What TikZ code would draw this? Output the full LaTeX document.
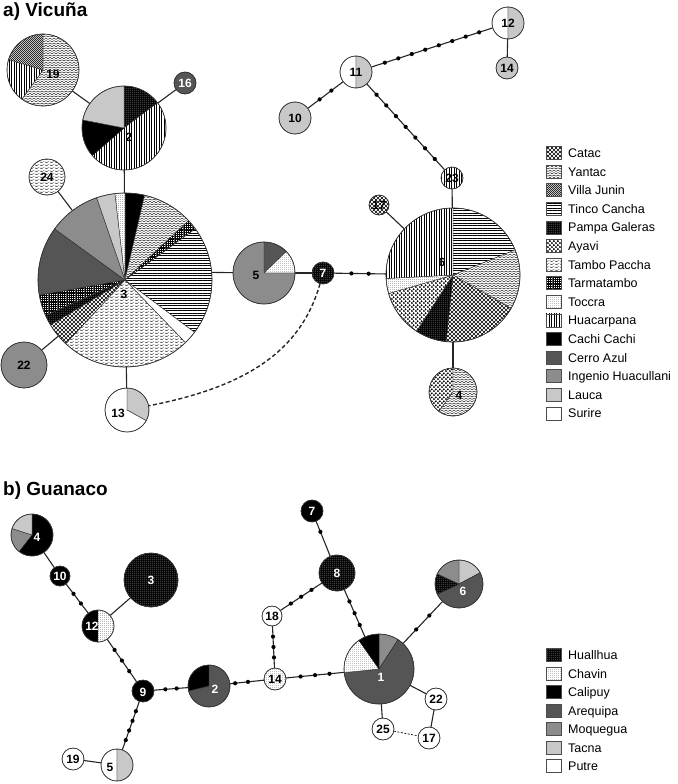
\documentclass[tikz,border=0pt]{standalone}
\usepackage{fontspec}
\setmainfont{Liberation Sans}
\usetikzlibrary{patterns}
% ---------- patterns ----------
\pgfdeclarepatternformonly{phl}{\pgfqpoint{-0.1pt}{-0.1pt}}{\pgfqpoint{2.6pt}{2.6pt}}{\pgfqpoint{2.5pt}{2.5pt}}%
{\pgfsetlinewidth{0.45pt}\pgfpathmoveto{\pgfqpoint{-0.1pt}{1.25pt}}\pgfpathlineto{\pgfqpoint{2.6pt}{1.25pt}}\pgfusepath{stroke}}
\pgfdeclarepatternformonly{pvl}{\pgfqpoint{-0.1pt}{-0.1pt}}{\pgfqpoint{2.6pt}{2.6pt}}{\pgfqpoint{2.5pt}{2.5pt}}%
{\pgfsetlinewidth{0.45pt}\pgfpathmoveto{\pgfqpoint{1.25pt}{-0.1pt}}\pgfpathlineto{\pgfqpoint{1.25pt}{2.6pt}}\pgfusepath{stroke}}
\pgfdeclarepatternformonly{pnwl}{\pgfqpoint{-0.3pt}{-0.3pt}}{\pgfqpoint{2.3pt}{2.3pt}}{\pgfqpoint{2pt}{2pt}}%
{\pgfsetlinewidth{0.4pt}\pgfpathmoveto{\pgfqpoint{-0.2pt}{2.2pt}}\pgfpathlineto{\pgfqpoint{2.2pt}{-0.2pt}}\pgfusepath{stroke}}
\pgfdeclarepatternformonly{pgrid}{\pgfqpoint{-0.1pt}{-0.1pt}}{\pgfqpoint{1.9pt}{1.9pt}}{\pgfqpoint{1.8pt}{1.8pt}}%
{\pgfsetlinewidth{0.35pt}\pgfpathmoveto{\pgfqpoint{-0.1pt}{0.9pt}}\pgfpathlineto{\pgfqpoint{1.9pt}{0.9pt}}%
\pgfpathmoveto{\pgfqpoint{0.9pt}{-0.1pt}}\pgfpathlineto{\pgfqpoint{0.9pt}{1.9pt}}\pgfusepath{stroke}}
\pgfdeclarepatternformonly{pwavy}{\pgfqpoint{-0.2pt}{0pt}}{\pgfqpoint{4.2pt}{2.4pt}}{\pgfqpoint{4pt}{2.4pt}}%
{\pgfsetlinewidth{0.4pt}\pgfpathmoveto{\pgfqpoint{0pt}{0.6pt}}%
\pgfpathcurveto{\pgfqpoint{1pt}{0.6pt}}{\pgfqpoint{1pt}{1.8pt}}{\pgfqpoint{2pt}{1.8pt}}%
\pgfpathcurveto{\pgfqpoint{3pt}{1.8pt}}{\pgfqpoint{3pt}{0.6pt}}{\pgfqpoint{4pt}{0.6pt}}\pgfusepath{stroke}}
\pgfdeclarepatternformonly{pdash}{\pgfqpoint{0pt}{0pt}}{\pgfqpoint{5pt}{3pt}}{\pgfqpoint{5pt}{3pt}}%
{\pgfsetlinewidth{0.5pt}\pgfpathmoveto{\pgfqpoint{0.5pt}{0.75pt}}\pgfpathlineto{\pgfqpoint{3pt}{0.75pt}}%
\pgfpathmoveto{\pgfqpoint{3pt}{2.25pt}}\pgfpathlineto{\pgfqpoint{5pt}{2.25pt}}%
\pgfpathmoveto{\pgfqpoint{0pt}{2.25pt}}\pgfpathlineto{\pgfqpoint{0.5pt}{2.25pt}}\pgfusepath{stroke}}
\pgfdeclarepatternformonly{pcatac}{\pgfqpoint{-0.2pt}{-0.2pt}}{\pgfqpoint{4.2pt}{4.2pt}}{\pgfqpoint{4pt}{4pt}}%
{\pgfsetlinewidth{0.4pt}\pgfpathmoveto{\pgfqpoint{0pt}{0pt}}\pgfpathlineto{\pgfqpoint{4pt}{4pt}}%
\pgfpathmoveto{\pgfqpoint{0pt}{4pt}}\pgfpathlineto{\pgfqpoint{4pt}{0pt}}\pgfusepath{stroke}}
\pgfdeclarepatternformonly{pfdots}{\pgfqpoint{0pt}{0pt}}{\pgfqpoint{1.8pt}{1.8pt}}{\pgfqpoint{1.8pt}{1.8pt}}%
{\pgfpathcircle{\pgfqpoint{0.9pt}{0.9pt}}{0.4pt}\pgfusepath{fill}}
\pgfdeclarepatternformonly{ptdots}{\pgfqpoint{0pt}{0pt}}{\pgfqpoint{2pt}{2pt}}{\pgfqpoint{2pt}{2pt}}%
{\pgfpathcircle{\pgfqpoint{1pt}{1pt}}{0.35pt}\pgfusepath{fill}}
\pgfdeclarepatternformonly{pbdots}{\pgfqpoint{0pt}{0pt}}{\pgfqpoint{3.8pt}{3.8pt}}{\pgfqpoint{3.8pt}{3.8pt}}%
{\pgfpathcircle{\pgfqpoint{0.95pt}{0.95pt}}{1.05pt}\pgfpathcircle{\pgfqpoint{2.85pt}{2.85pt}}{1.05pt}\pgfusepath{fill}}
% ---------- colours ----------
\definecolor{cerro}{HTML}{555555}
\definecolor{ingenio}{HTML}{8C8C8C}
\definecolor{lauca}{HTML}{C8C8C8}
\tikzset{
  sl/.style={draw=black!85,line width=0.4pt},
  ring/.style={draw=black!80,line width=0.6pt},
  conn/.style={draw=black!85,line width=1.1pt},
  mut/.style={circle,fill=black,inner sep=0pt,minimum size=4.2pt},
  lab/.style={font=\bfseries\fontsize{12}{12}\selectfont,inner sep=0pt},
  wlab/.style={lab,text=white},
  legtxt/.style={anchor=base west,inner sep=0pt,font=\fontsize{12.5}{14}\selectfont},
  swatch/.style={rectangle,draw=black!70,line width=0.5pt,minimum width=15pt,minimum height=13pt,inner sep=0pt},
  title/.style={anchor=base west,inner sep=0pt,font=\bfseries\fontsize{19}{22}\selectfont},
  Catac/.style={preaction={fill=white},pattern=pcatac},
  Yantac/.style={preaction={fill=white},pattern=pwavy},
  Villa/.style={preaction={fill=white},pattern=pnwl},
  Tinco/.style={preaction={fill=white},pattern=phl},
  Pampa/.style={preaction={fill=black},pattern=pfdots,pattern color=white},
  Ayavi/.style={preaction={fill=white},pattern=pbdots},
  Tambo/.style={preaction={fill=white},pattern=pdash},
  Tarma/.style={preaction={fill=white},pattern=pgrid},
  Toccra/.style={preaction={fill=white},pattern=ptdots},
  Huaca/.style={preaction={fill=white},pattern=pvl},
  Cachi/.style={fill=black},
  Cerro/.style={fill=cerro},
  Ingenio/.style={fill=ingenio},
  Lauca/.style={fill=lauca},
  Surire/.style={fill=white},
  Huallhua/.style={Pampa},
  Chavin/.style={Toccra},
  Calipuy/.style={Cachi},
  Arequipa/.style={Cerro},
  Moquegua/.style={Ingenio},
  Tacna/.style={Lauca},
  Putre/.style={Surire},
}
\newcommand\pslice[5]{\path[sl,#5] (#1.center) -- ++(#2:#4) arc[start angle=#2,end angle=#3,radius=#4] -- cycle;}
\newcommand\disc[3]{\path[sl,#3] (#1.center) circle[radius=#2];}
\newcommand\ring[2]{\draw[ring] (#1.center) circle[radius=#2];}
\newcommand\hap[4]{\node[circle,inner sep=0pt,minimum size={2*#4pt}] (#1) at (#2,-#3) {};}
\newcommand\mutline[3]{\draw[conn] (#1) -- (#2) \foreach \p [count=\c] in {#3} {node[mut,pos=\p] (#1-#2-\c) {}};}
\begin{document}
\begin{tikzpicture}[x=1pt,y=1pt]
\useasboundingbox (0,0) rectangle (677,-784);
\fill[white] (0,0) rectangle (677,-784);
% ================= a) Vicuna =================
\node[title] (ta) at (3,-17) {a) Vicuña};
\hap{v19}{43}{70}{36}
\hap{v2}{124}{128}{42}
\hap{v16}{185}{83}{11}
\hap{v24}{47}{177}{18}
\hap{v3}{125}{280}{87}
\hap{v22}{24}{365}{23}
\hap{v13}{127}{410}{22}
\hap{v5}{264}{273}{31}
\hap{v7}{323}{273}{11}
\hap{v6}{453}{275}{67}
\hap{v23}{452}{178}{11}
\hap{v17}{379}{205}{10}
\hap{v4}{453}{392}{24}
\hap{v11}{356}{72}{16}
\hap{v12}{508}{23}{16}
\hap{v14}{507}{68}{11}
\hap{v10}{295}{118}{16}
% connectors
\draw[conn] (v19) -- (v2);
\draw[conn] (v2) -- (v16);
\draw[conn] (v2) -- (v3);
\draw[conn] (v3) -- (v24);
\draw[conn] (v3) -- (v22);
\draw[conn] (v3) -- (v13);
\draw[conn] (v3.5) -- (v5);
\draw[conn] (v5) -- (v7);
\mutline{v7}{v6}{0.333,0.667}
\draw[conn] (v6) -- (v23);
\draw[conn] (v6) -- (v17);
\draw[conn] (v6) -- (v4);
\mutline{v11}{v23}{0.125,0.25,0.375,0.5,0.625,0.75,0.875}
\mutline{v11}{v12}{0.111,0.222,0.333,0.444,0.556,0.667,0.778,0.889}
\draw[conn] (v12) -- (v14);
\mutline{v11}{v10}{0.333,0.667}
\draw[conn,line width=1.4pt,dash pattern=on 4pt off 2.5pt] (v7) .. controls (300,-355) and (240,-388) .. (v13);
% pies
\pslice{v19}{-126}{90}{36}{Yantac}
\pslice{v19}{163}{234}{36}{Huaca}
\pslice{v19}{90}{163}{36}{Villa}
\ring{v19}{36}
\pslice{v2}{37}{90}{42}{Pampa}
\pslice{v2}{-139}{37}{42}{Huaca}
\pslice{v2}{169}{221}{42}{Cachi}
\pslice{v2}{90}{169}{42}{Lauca}
\ring{v2}{42}
\disc{v16}{11}{Cerro}\ring{v16}{11}
\disc{v24}{18}{Tambo}\ring{v24}{18}
\pslice{v3}{77}{90}{87}{Cachi}
\pslice{v3}{43}{77}{87}{Yantac}
\pslice{v3}{36}{43}{87}{Tarma}
\pslice{v3}{-37}{36}{87}{Tinco}
\pslice{v3}{-46}{-37}{87}{Surire}
\pslice{v3}{-133}{-46}{87}{Tambo}
\pslice{v3}{211}{227}{87}{Catac}
\pslice{v3}{204}{211}{87}{Pampa}
\pslice{v3}{190}{204}{87}{Tarma}
\pslice{v3}{144}{190}{87}{Cerro}
\pslice{v3}{109}{144}{87}{Ingenio}
\pslice{v3}{96.6}{109}{87}{Lauca}
\pslice{v3}{90}{96.6}{87}{Toccra}
\ring{v3}{87}
\disc{v22}{23}{Ingenio}\ring{v22}{23}
\pslice{v13}{-29}{90}{22}{Lauca}
\pslice{v13}{90}{331}{22}{Surire}
\ring{v13}{22}
\pslice{v5}{44}{90}{31}{Cerro}
\pslice{v5}{0}{44}{31}{Toccra}
\pslice{v5}{90}{360}{31}{Ingenio}
\ring{v5}{31}
\disc{v7}{11}{Pampa}\ring{v7}{11}
\pslice{v6}{22}{90}{67}{Tinco}
\pslice{v6}{-30}{22}{67}{Yantac}
\pslice{v6}{-96}{-30}{67}{Catac}
\pslice{v6}{237}{264}{67}{Pampa}
\pslice{v6}{196}{237}{67}{Ayavi}
\pslice{v6}{183}{196}{67}{Toccra}
\pslice{v6}{90}{183}{67}{Huaca}
\ring{v6}{67}
\disc{v23}{11}{Huaca}\ring{v23}{11}
\disc{v17}{10}{Catac}\ring{v17}{10}
\pslice{v4}{90}{234}{24}{Ayavi}
\pslice{v4}{-126}{90}{24}{Yantac}
\ring{v4}{24}
\pslice{v11}{90}{270}{16}{Surire}
\pslice{v11}{-90}{90}{16}{Lauca}
\ring{v11}{16}
\pslice{v12}{90}{270}{16}{Surire}
\pslice{v12}{-90}{90}{16}{Lauca}
\ring{v12}{16}
\disc{v14}{11}{Lauca}\ring{v14}{11}
\disc{v10}{16}{Lauca}\ring{v10}{16}
% labels
\node[lab] (v19t) at (53,-74) {19};
\node[lab] (v2t) at (129,-137) {2};
\node[wlab] (v16t) at (185,-83) {16};
\node[lab] (v24t) at (47,-177) {24};
\node[lab] (v3t) at (124,-294) {3};
\node[lab] (v22t) at (24,-365) {22};
\node[lab] (v13t) at (118,-413) {13};
\node[lab] (v5t) at (256,-275) {5};
\node[wlab] (v7t) at (323,-273) {7};
\node[lab] (v6t) at (442,-262) {6};
\node[lab] (v23t) at (452,-178) {23};
\node[lab] (v17t) at (379,-205) {17};
\node[lab] (v4t) at (459,-395) {4};
\node[lab] (v11t) at (356,-72) {11};
\node[lab] (v12t) at (508,-23) {12};
\node[lab] (v14t) at (507,-68) {14};
\node[lab] (v10t) at (295,-118) {10};
% legend a
\node[swatch,Catac] (la1) at (553.5,-153) {};
\node[swatch,Yantac] (la2) at (553.5,-171.6) {};
\node[swatch,Villa] (la3) at (553.5,-190.2) {};
\node[swatch,Tinco] (la4) at (553.5,-208.8) {};
\node[swatch,Pampa] (la5) at (553.5,-227.4) {};
\node[swatch,Ayavi] (la6) at (553.5,-246) {};
\node[swatch,Tambo] (la7) at (553.5,-264.6) {};
\node[swatch,Tarma] (la8) at (553.5,-283.2) {};
\node[swatch,Toccra] (la9) at (553.5,-301.8) {};
\node[swatch,Huaca] (la10) at (553.5,-320.4) {};
\node[swatch,Cachi] (la11) at (553.5,-339) {};
\node[swatch,Cerro] (la12) at (553.5,-357.6) {};
\node[swatch,Ingenio] (la13) at (553.5,-376.2) {};
\node[swatch,Lauca] (la14) at (553.5,-394.8) {};
\node[swatch,Surire] (la15) at (553.5,-413.4) {};
\node[legtxt] (lt1) at (568,-157.5) {Catac};
\node[legtxt] (lt2) at (568,-176.1) {Yantac};
\node[legtxt] (lt3) at (568,-194.7) {Villa Junin};
\node[legtxt] (lt4) at (568,-213.3) {Tinco Cancha};
\node[legtxt] (lt5) at (568,-231.9) {Pampa Galeras};
\node[legtxt] (lt6) at (568,-250.5) {Ayavi};
\node[legtxt] (lt7) at (568,-269.1) {Tambo Paccha};
\node[legtxt] (lt8) at (568,-287.7) {Tarmatambo};
\node[legtxt] (lt9) at (568,-306.3) {Toccra};
\node[legtxt] (lt10) at (568,-324.9) {Huacarpana};
\node[legtxt] (lt11) at (568,-343.5) {Cachi Cachi};
\node[legtxt] (lt12) at (568,-362.1) {Cerro Azul};
\node[legtxt] (lt13) at (568,-380.7) {Ingenio Huacullani};
\node[legtxt] (lt14) at (568,-399.3) {Lauca};
\node[legtxt] (lt15) at (568,-417.9) {Surire};
% ================= b) Guanaco =================
\node[title] (tb) at (3,-495) {b) Guanaco};
\hap{g4}{32}{535}{21}
\hap{g10}{60}{576}{10}
\hap{g12}{98}{626}{16}
\hap{g3}{151}{580}{27}
\hap{g9}{143}{691}{11}
\hap{g2}{209}{686}{21}
\hap{g5}{117}{765}{16}
\hap{g19}{73}{759}{11}
\hap{g14}{275}{679}{11}
\hap{g18}{272}{616}{10}
\hap{g8}{337}{573}{18}
\hap{g7}{312}{511}{11}
\hap{g1}{379}{669}{35}
\hap{g6}{459}{584}{24}
\hap{g22}{436}{699}{11}
\hap{g17}{429}{738}{11}
\hap{g25}{383}{729}{11}
% connectors
\draw[conn] (g4) -- (g10);
\mutline{g10}{g12}{0.333,0.667}
\draw[conn] (g12) -- (g3);
\mutline{g12}{g9}{0.25,0.5,0.75}
\mutline{g9}{g2}{0.333,0.667}
\mutline{g9}{g5}{0.2,0.4,0.6,0.8}
\draw[conn] (g5) -- (g19);
\mutline{g2}{g14}{0.15,0.53}
\mutline{g14}{g18}{0.25,0.5,0.75}
\mutline{g18}{g8}{0.25,0.5,0.75}
\mutline{g7}{g8}{0.3}
\mutline{g8}{g1}{0.25,0.5,0.75}
\mutline{g14}{g1}{0.25,0.5,0.75}
\mutline{g1}{g6}{0.333,0.667}
\draw[conn] (g1) -- (g22);
\draw[conn] (g22) -- (g17);
\draw[conn] (g1) -- (g25);
\draw[conn,line width=0.8pt,dash pattern=on 2pt off 1.5pt] (g25) -- (g17);
% pies
\pslice{g4}{-128}{90}{21}{Calipuy}
\pslice{g4}{162}{232}{21}{Moquegua}
\pslice{g4}{90}{162}{21}{Tacna}
\ring{g4}{21}
\disc{g10}{10}{Calipuy}\ring{g10}{10}
\pslice{g12}{90}{270}{16}{Calipuy}
\pslice{g12}{-90}{90}{16}{Chavin}
\ring{g12}{16}
\disc{g3}{27}{Huallhua}\ring{g3}{27}
\disc{g9}{11}{Calipuy}\ring{g9}{11}
\pslice{g2}{90}{194}{21}{Calipuy}
\pslice{g2}{194}{450}{21}{Arequipa}
\ring{g2}{21}
\pslice{g5}{90}{270}{16}{Putre}
\pslice{g5}{-90}{90}{16}{Tacna}
\ring{g5}{16}
\disc{g19}{11}{Putre}\ring{g19}{11}
\disc{g14}{11}{Chavin}\ring{g14}{11}
\disc{g18}{10}{Putre}\ring{g18}{10}
\disc{g8}{18}{Huallhua}\ring{g8}{18}
\disc{g7}{11}{Calipuy}\ring{g7}{11}
\pslice{g1}{57}{90}{35}{Moquegua}
\pslice{g1}{-174}{57}{35}{Arequipa}
\pslice{g1}{125}{186}{35}{Chavin}
\pslice{g1}{90}{125}{35}{Calipuy}
\ring{g1}{35}
\pslice{g6}{28}{90}{24}{Tacna}
\pslice{g6}{-155}{28}{24}{Arequipa}
\pslice{g6}{155}{205}{24}{Huallhua}
\pslice{g6}{90}{155}{24}{Moquegua}
\ring{g6}{24}
\disc{g22}{11}{Putre}\ring{g22}{11}
\disc{g17}{11}{Putre}\ring{g17}{11}
\disc{g25}{11}{Putre}\ring{g25}{11}
% labels
\node[wlab] (g4t) at (37,-537) {4};
\node[wlab] (g10t) at (60,-576) {10};
\node[wlab] (g12t) at (92,-626) {12};
\node[wlab] (g3t) at (151,-580) {3};
\node[wlab] (g9t) at (143,-692) {9};
\node[wlab] (g2t) at (215,-689) {2};
\node[lab] (g5t) at (110,-767) {5};
\node[lab] (g19t) at (73,-759) {19};
\node[lab] (g14t) at (275,-679) {14};
\node[lab] (g18t) at (272,-616) {18};
\node[wlab] (g8t) at (337,-573) {8};
\node[wlab] (g7t) at (312,-511) {7};
\node[wlab] (g1t) at (381,-677) {1};
\node[wlab] (g6t) at (463,-591) {6};
\node[lab] (g22t) at (436,-699) {22};
\node[lab] (g17t) at (429,-738) {17};
\node[lab] (g25t) at (383,-729) {25};
% legend b
\node[swatch,Huallhua] (lb1) at (553.5,-655) {};
\node[swatch,Chavin] (lb2) at (553.5,-673.5) {};
\node[swatch,Calipuy] (lb3) at (553.5,-692) {};
\node[swatch,Arequipa] (lb4) at (553.5,-710.5) {};
\node[swatch,Moquegua] (lb5) at (553.5,-729) {};
\node[swatch,Tacna] (lb6) at (553.5,-747.5) {};
\node[swatch,Putre] (lb7) at (553.5,-766) {};
\node[legtxt] (lbt1) at (568,-659.5) {Huallhua};
\node[legtxt] (lbt2) at (568,-678) {Chavin};
\node[legtxt] (lbt3) at (568,-696.5) {Calipuy};
\node[legtxt] (lbt4) at (568,-715) {Arequipa};
\node[legtxt] (lbt5) at (568,-733.5) {Moquegua};
\node[legtxt] (lbt6) at (568,-752) {Tacna};
\node[legtxt] (lbt7) at (568,-770.5) {Putre};
\end{tikzpicture}
\end{document}
